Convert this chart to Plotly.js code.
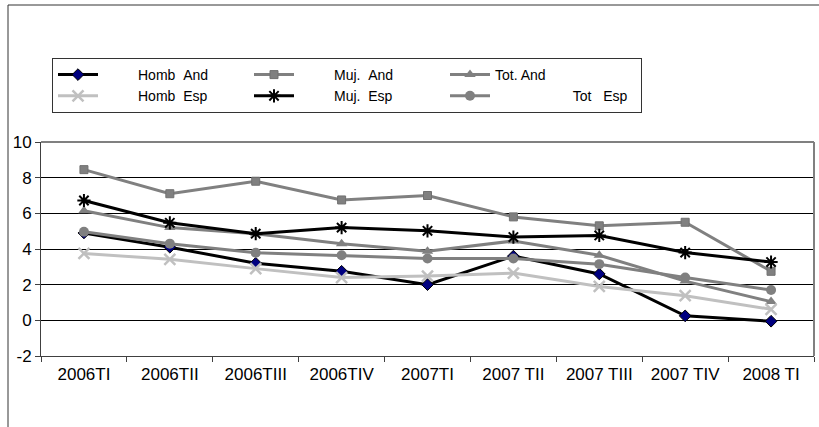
<!DOCTYPE html>
<html>
<head>
<meta charset="utf-8">
<script src="https://cdn.plot.ly/plotly-3.0.1.min.js"></script>
<style>html,body{margin:0;padding:0;background:#fff;}#chart{width:819px;height:427px;}</style>
</head>
<body>
<div id="chart"></div>
<script>
var categories = ["2006TI","2006TII","2006TIII","2006TIV","2007TI","2007 TII","2007 TIII","2007 TIV","2008 TI"];
var hombAnd = [4.9, 4.1, 3.2, 2.75, 2.0, 3.6, 2.6, 0.25, -0.05];
var mujAnd  = [8.45, 7.1, 7.8, 6.75, 7.0, 5.8, 5.3, 5.5, 2.75];
var totAnd  = [6.15, 5.2, 4.85, 4.3, 3.88, 4.45, 3.65, 2.2, 1.05];
var hombEsp = [3.75, 3.42, 2.9, 2.4, 2.48, 2.65, 1.9, 1.38, 0.62];
var mujEsp  = [6.72, 5.47, 4.86, 5.2, 5.02, 4.67, 4.76, 3.8, 3.27];
var totEsp  = [4.97, 4.3, 3.79, 3.65, 3.47, 3.47, 3.15, 2.4, 1.7];
var yTicks = [-2, 0, 2, 4, 6, 8, 10];

var NB = "\u00a0";
function pad(n){ return NB.repeat(n); }

var traces = [
  {name: pad(9)+"Homb"+pad(2)+"And", y: hombAnd, line:{color:"#000000", width:3},
   marker:{symbol:"diamond", size:9, color:"#000080", line:{color:"#000000", width:1}}},
  {name: pad(9)+"Muj."+pad(2)+"And", y: mujAnd, line:{color:"#808080", width:3},
   marker:{symbol:"square", size:8, color:"#808080", line:{color:"#707070", width:1}}},
  {name: "Tot. And", y: totAnd, line:{color:"#808080", width:3},
   marker:{symbol:"triangle-up", size:10, color:"#808080", line:{color:"#808080", width:0}}},
  {name: pad(9)+"Homb"+pad(2)+"Esp", y: hombEsp, line:{color:"#c0c0c0", width:3},
   marker:{symbol:"x-thin-open", size:11, color:"#c0c0c0", line:{color:"#c0c0c0", width:2.5}}},
  {name: pad(9)+"Muj."+pad(2)+"Esp", y: mujEsp, line:{color:"#000000", width:3},
   marker:{symbol:"asterisk-open", size:11, color:"#000000", line:{color:"#000000", width:2}}},
  {name: pad(20)+"Tot"+pad(3)+"Esp", y: totEsp, line:{color:"#808080", width:3},
   marker:{symbol:"circle", size:10, color:"#808080", line:{color:"#808080", width:0}}}
].map(function(t){
  t.x = categories; t.type = "scatter"; t.mode = "lines+markers"; t.hoverinfo = "skip";
  return t;
});

var L = 41, R = 814, T = 142, B = 356, W = 819, H = 427;
function px(x){ return (x - L)/(R - L); }
function py(y){ return (B - y)/(B - T); }

var layout = {
  width: W, height: H,
  margin: {l: L, r: W - R, t: T, b: H - B, pad: 0},
  paper_bgcolor: "#ffffff", plot_bgcolor: "#ffffff",
  font: {family: "Liberation Sans, Arial, sans-serif", color: "#000000", size: 17},
  showlegend: true,
  legend: {
    orientation: "h", xref: "container", yref: "container",
    x: 52/W, y: 1 - 58/H, xanchor: "left", yanchor: "top",
    bordercolor: "#333333", borderwidth: 1, bgcolor: "#ffffff",
    entrywidth: 141, entrywidthmode: "pixels", itemwidth: 40,
    traceorder: "normal", font: {size: 14, family: "Liberation Sans, Arial, sans-serif"},
    itemclick: false, itemdoubleclick: false
  },
  xaxis: {
    type: "category", range: [-0.5, 8.5], fixedrange: true,
    showline: true, linecolor: "#404040", linewidth: 1, mirror: false,
    ticks: "outside", tickson: "boundaries", ticklen: 5, tickcolor: "#404040",
    showgrid: false, tickfont: {size: 17}, ticklabelstandoff: 3
  },
  yaxis: {
    range: [-2, 10], tickvals: yTicks, ticktext: yTicks.map(String), fixedrange: true,
    showline: true, linecolor: "#404040", linewidth: 1, mirror: false,
    ticks: "outside", ticklen: 5, tickcolor: "#404040",
    showgrid: true, gridcolor: "#000000", gridwidth: 1,
    zeroline: true, zerolinecolor: "#000000", zerolinewidth: 1,
    tickfont: {size: 17}
  },
  shapes: [
    {type: "line", xref: "paper", yref: "paper", x0: 0, x1: 1, y0: 1, y1: 1, line: {color: "#808080", width: 2}},
    {type: "line", xref: "paper", yref: "paper", x0: 1, x1: 1, y0: 0, y1: 1, line: {color: "#808080", width: 2}},
    {type: "line", xref: "paper", yref: "paper", x0: px(8), x1: px(819), y0: py(5), y1: py(5), line: {color: "#333333", width: 1}},
    {type: "line", xref: "paper", yref: "paper", x0: px(8), x1: px(8), y0: py(5), y1: py(427), line: {color: "#333333", width: 1}}
  ]
};

Plotly.newPlot("chart", traces, layout, {displayModeBar: false, staticPlot: true});
</script>
</body>
</html>
